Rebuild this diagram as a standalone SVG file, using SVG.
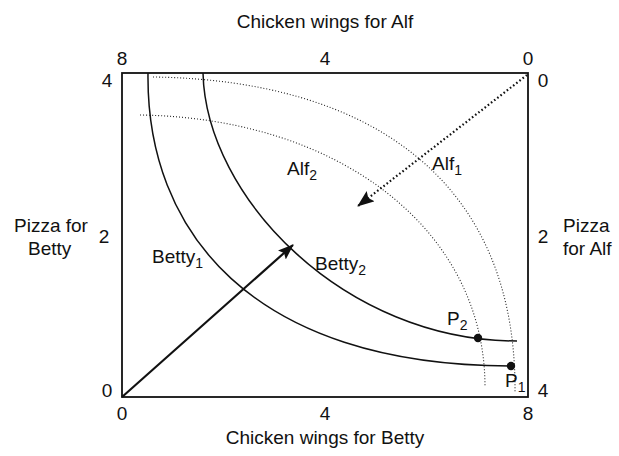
<svg xmlns="http://www.w3.org/2000/svg" width="619" height="456" viewBox="0 0 619 456">
<defs>
<style>
text{font-family:"Liberation Sans",Arial,sans-serif;font-size:19px;fill:#111}
.sub{font-size:14px}
.mid{text-anchor:middle}
.solid{fill:none;stroke:#111;stroke-width:1.5}
.dot{fill:none;stroke:#222;stroke-width:1.1;stroke-dasharray:1 2}
</style>
<marker id="ahs" viewBox="0 0 16 12" refX="15" refY="6" markerWidth="16" markerHeight="12" markerUnits="userSpaceOnUse" orient="auto"><path d="M0,0 L16,6 L0,12 L3,6 Z" fill="#111"/></marker>
<marker id="ahd" viewBox="0 0 17 13" refX="16" refY="6.5" markerWidth="17" markerHeight="13" markerUnits="userSpaceOnUse" orient="auto"><path d="M0,0 L17,6.5 L0,13 L3,6.5 Z" fill="#111"/></marker>
</defs>
<rect width="619" height="456" fill="#fff"/>
<g id="box"><rect x="122" y="73" width="406" height="324" fill="none" stroke="#111" stroke-width="1.8"/></g>
<g id="axis-labels">
<text x="325" y="28" class="mid">Chicken wings for Alf</text>
<text x="122" y="65" class="mid">8</text>
<text x="325" y="65" class="mid">4</text>
<text x="528" y="65" class="mid">0</text>
<text x="107" y="87" class="mid">4</text>
<text x="543" y="87" class="mid">0</text>
<text x="104" y="243" class="mid">2</text>
<text x="543" y="243" class="mid">2</text>
<text x="107" y="397" class="mid">0</text>
<text x="543" y="397" class="mid">4</text>
<text x="122" y="420" class="mid">0</text>
<text x="325" y="420" class="mid">4</text>
<text x="528" y="420" class="mid">8</text>
<text x="325" y="444" class="mid">Chicken wings for Betty</text>
<text x="14" y="232">Pizza for</text>
<text x="28" y="255">Betty</text>
<text x="563" y="232">Pizza</text>
<text x="563" y="255">for Alf</text>
</g>
<g id="connectors">
<path id="betty1" class="solid" d="M148,73 C146,230 250,366 512,366"/>
<path id="betty2" class="solid" d="M203,73 C206,198 345,341 517,341"/>
<path id="alf1" class="dot" d="M153,77 C370,80 517,180 515,393"/>
<path id="alf2" class="dot" d="M140,115 C340,118 485,230 485,387"/>
<line x1="122" y1="397" x2="293" y2="245" stroke="#111" stroke-width="2.2" marker-end="url(#ahs)"/>
<line x1="527" y1="75" x2="358" y2="206" stroke="#111" stroke-width="2.2" stroke-dasharray="1.6 2.4" marker-end="url(#ahd)"/>
</g>
<g id="p1"><circle cx="511" cy="366" r="4.2" fill="#111"/><text x="505" y="387">P<tspan class="sub" dy="5">1</tspan></text></g>
<g id="p2"><circle cx="478" cy="338" r="4.2" fill="#111"/><text x="447" y="325">P<tspan class="sub" dy="5">2</tspan></text></g>
<g id="curve-labels">
<text x="287" y="175">Alf<tspan class="sub" dy="5">2</tspan></text>
<text x="432" y="170">Alf<tspan class="sub" dy="5">1</tspan></text>
<text x="152" y="263">Betty<tspan class="sub" dy="5">1</tspan></text>
<text x="315" y="270">Betty<tspan class="sub" dy="5">2</tspan></text>
</g>
</svg>
